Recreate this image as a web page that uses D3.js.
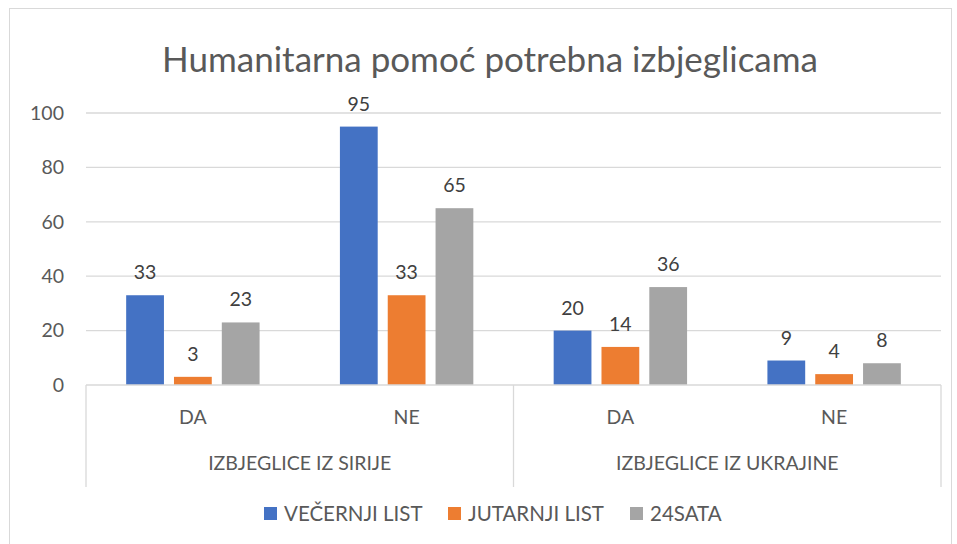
<!DOCTYPE html>
<html>
<head>
<meta charset="utf-8">
<script src="https://cdn.jsdelivr.net/npm/d3@7"></script>
<style>
  body { margin: 0; background: #fff; }
  text { font-family: Lato, "Open Sans", sans-serif; fill: #595959; }
</style>
</head>
<body>
<div id="graf"></div>
<script>
// Datos
grupos = ['IZBJEGLICE IZ SIRIJE', 'IZBJEGLICE IZ UKRAJINE']
respuestas = ['DA', 'NE']
series = ['VEČERNJI LIST', 'JUTARNJI LIST', '24SATA']
vecernji = [33, 95, 20, 9]
jutarnji = [3, 33, 14, 4]
sata24 = [23, 65, 36, 8]
ticks = [0, 20, 40, 60, 80, 100]
colores = ['#4472C4', '#ED7D31', '#A5A5A5']

// Configuración del canvas
ancho_total = 957
alto_total = 544
margins = {top: 113, left: 86, right: 16, bottom: 159}
ancho = ancho_total - margins.left - margins.right
alto = alto_total - margins.top - margins.bottom

svg = d3.select('#graf').append('svg')
        .attr('width', ancho_total)
        .attr('height', alto_total)

svg.append('rect')
   .attr('x', 9.5).attr('y', 8.5)
   .attr('width', 942).attr('height', 540)
   .attr('fill', 'none').attr('stroke', '#d9d9d9')

svg.append('text')
   .attr('x', 490).attr('y', 72)
   .attr('text-anchor', 'middle')
   .style('font-size', '35px')
   .text('Humanitarna pomoć potrebna izbjeglicama')

g = svg.append('g')
       .attr('transform', `translate(${margins.left}, ${margins.top})`)

// categorías de primer nivel
cats = []
grupos.forEach((gr, i) => respuestas.forEach((r, j) => cats.push({grupo: gr, resp: r, idx: i * 2 + j})))
valores = [vecernji, jutarnji, sata24]

// -- Escaladores --
y = d3.scaleLinear().domain([0, 100]).range([alto, 0])
x = d3.scaleBand().domain(cats.map(d => d.idx)).range([0, ancho])
x1 = d3.scaleBand().domain(series).range([0, x.bandwidth()])
       .paddingInner(0.21).paddingOuter(0.84)

// gridlines
g.selectAll('.grid').data(ticks.slice(1)).enter()
 .append('line')
 .attr('x1', 0).attr('x2', ancho)
 .attr('y1', d => y(d)).attr('y2', d => y(d))
 .attr('stroke', '#d9d9d9').attr('stroke-width', 1.3)

yAx = g.append('g').call(d3.axisLeft(y).tickValues(ticks).tickSize(0).tickPadding(22))
yAx.select('.domain').remove()
yAx.selectAll('text').style('font-size', '19.5px').style('fill', '#595959')

// barras
datos = []
series.forEach((s, si) => cats.forEach(c => datos.push({serie: s, si: si, idx: c.idx, v: valores[si][c.idx]})))

g.selectAll('rect.bar').data(datos).enter()
 .append('rect')
 .attr('class', 'bar')
 .attr('x', d => x(d.idx) + x1(d.serie))
 .attr('width', x1.bandwidth())
 .attr('y', d => y(d.v))
 .attr('height', d => alto - y(d.v))
 .attr('fill', d => colores[d.si])

g.selectAll('text.lbl').data(datos).enter()
 .append('text')
 .attr('x', d => x(d.idx) + x1(d.serie) + x1.bandwidth() / 2)
 .attr('y', d => y(d.v) - 16)
 .attr('text-anchor', 'middle')
 .style('font-size', '19.5px')
 .style('fill', '#404040')
 .text(d => d.v)

// eje x multinivel
ejeX = g.append('g').attr('transform', `translate(0, ${alto})`)
ejeX.append('line').attr('x1', 0).attr('x2', ancho)
    .attr('stroke', '#d9d9d9').attr('stroke-width', 1.3)
ejeX.selectAll('line.sep').data([0, 2, 4]).enter()
    .append('line')
    .attr('x1', d => d < 4 ? x(d) : ancho).attr('x2', d => d < 4 ? x(d) : ancho)
    .attr('y1', 0).attr('y2', 102)
    .attr('stroke', '#d9d9d9').attr('stroke-width', 1.3)
ejeX.selectAll('text.cat').data(cats).enter()
    .append('text')
    .attr('x', d => x(d.idx) + x.bandwidth() / 2)
    .attr('y', 39)
    .attr('text-anchor', 'middle')
    .style('font-size', '19.5px')
    .text(d => d.resp)
ejeX.selectAll('text.grp').data(grupos).enter()
    .append('text')
    .attr('x', (d, i) => x(i * 2) + x.bandwidth())
    .attr('y', 85)
    .attr('text-anchor', 'middle')
    .style('font-size', '19.5px')
    .text(d => d)

// leyenda
leyX = [264, 448, 630]
ley = svg.append('g').attr('transform', 'translate(0, 514)')
series.forEach((s, i) => {
  ley.append('rect').attr('x', leyX[i]).attr('y', -7).attr('width', 13).attr('height', 13).attr('fill', colores[i])
  ley.append('text').attr('x', leyX[i] + 20).attr('y', 7).style('font-size', '20.5px').text(s)
})
</script>
</body>
</html>
